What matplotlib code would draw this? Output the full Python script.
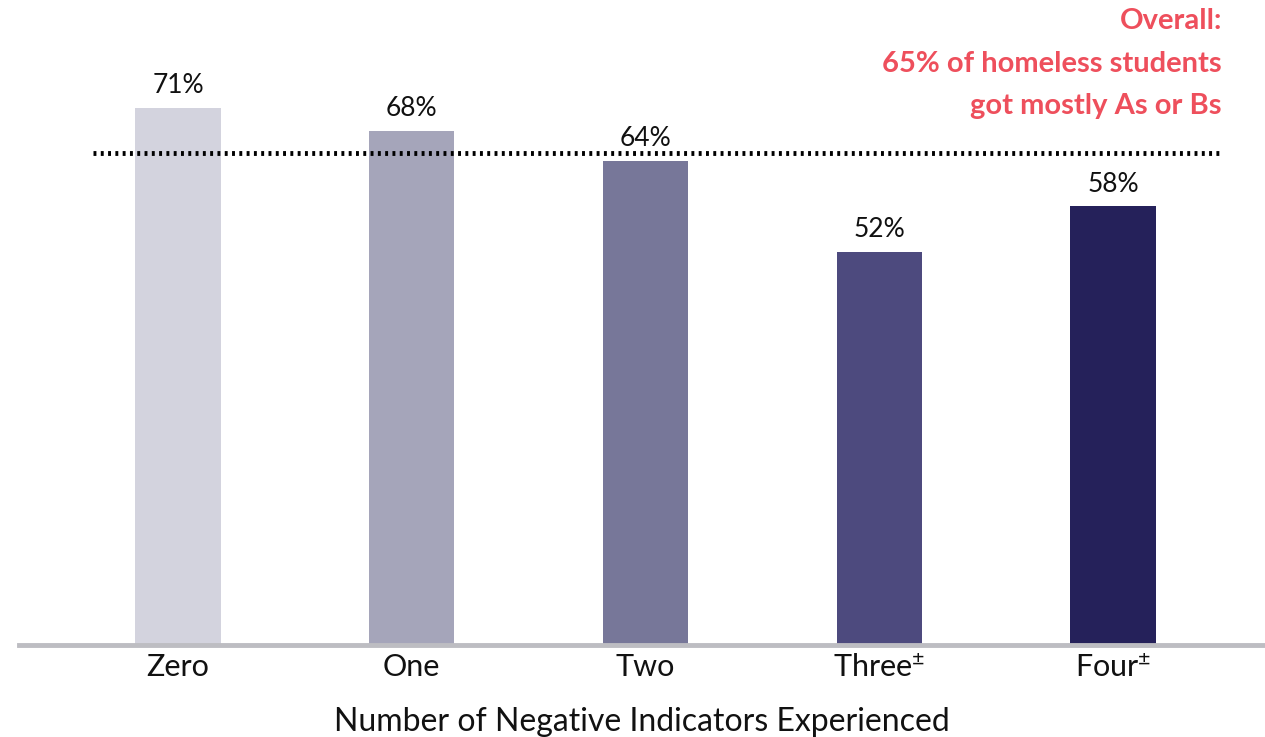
import matplotlib.pyplot as plt

plt.rcParams['font.family'] = ['Lato', 'DejaVu Sans']
plt.rcParams['mathtext.default'] = 'regular'

categories = ['Zero', 'One', 'Two', 'Three$^{±}$', 'Four$^{±}$']
values = [71, 68, 64, 52, 58]
overall = 65
colors = ['#d3d3de', '#a5a5ba', '#777799', '#4d4a7e', '#25215a']

fig = plt.figure(figsize=(12.65, 7.37), dpi=100)
ax = fig.add_axes([19 / 1265, 1 - 645 / 737, 1 - 19 / 1265, 645 / 737])

x = range(len(values))
ax.bar(x, values, width=0.365, color=colors, zorder=2)
for xi, v in zip(x, values):
    ax.text(xi, v + 1.3, f'{v}%', ha='center', va='bottom', fontsize=19, color='#111111')

ax.plot([-0.364, 4.466], [overall, overall], color='black', lw=3.5,
        linestyle=(0, (0.6, 0.9)), zorder=3)

ax.text(4.466, 84.2, 'Overall:\n65% of homeless students\ngot mostly As or Bs',
        ha='right', va='top', fontsize=21, fontweight='bold', color='#ee4f5c',
        linespacing=1.78)

ax.set_xlim(-0.68, 4.65)
ax.set_ylim(0, 85.3)
ax.set_xticks(list(x))
ax.set_xticklabels(categories, fontsize=22, color='#111111')
ax.tick_params(axis='x', length=0, pad=6)
ax.set_yticks([])
for s in ['top', 'right', 'left']:
    ax.spines[s].set_visible(False)
ax.spines['bottom'].set_color('#bdbdc2')
ax.spines['bottom'].set_linewidth(3.5)
ax.set_xlabel('Number of Negative Indicators Experienced', fontsize=23,
              color='#111111', labelpad=18)

fig.savefig('out.png', dpi=100)
